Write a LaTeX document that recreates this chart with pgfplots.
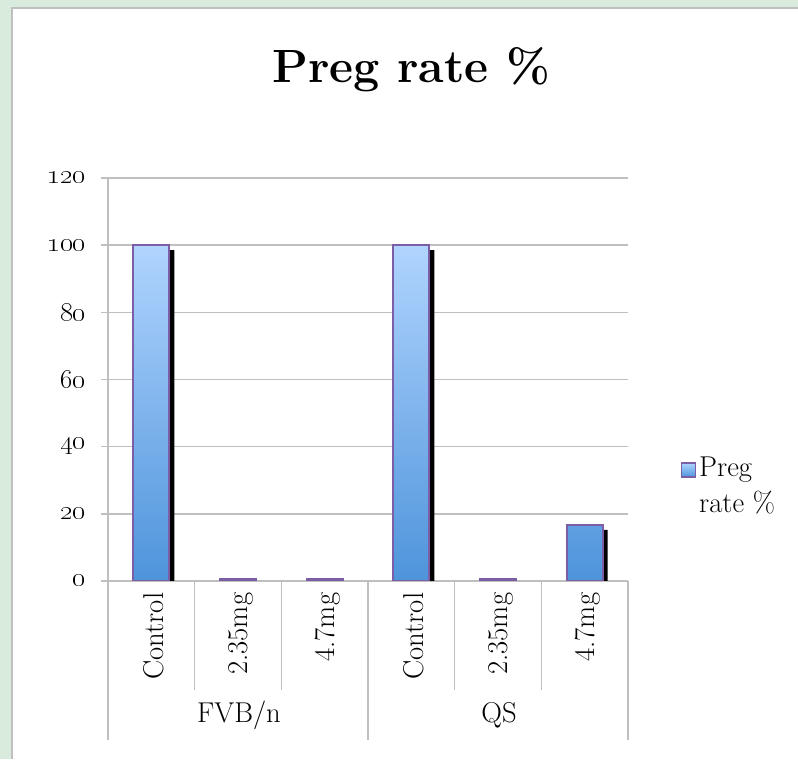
\documentclass[border=0pt]{standalone}
\usepackage{pgfplots}
\pgfplotsset{compat=1.18}
\definecolor{bgGreen}{HTML}{D8EBDC}
\definecolor{gridGray}{HTML}{BFBFBF}
\definecolor{barTop}{HTML}{B0D4FE}
\definecolor{barBot}{HTML}{4E94DB}
\definecolor{barEdge}{HTML}{7B5EA6}
\newcommand{\lbl}{\fontsize{21.5}{27}\selectfont}

\begin{document}
\begin{tikzpicture}
% page background and white chart area
\fill[bgGreen] (0pt,0pt) rectangle (598.5pt,569.25pt);
\fill[white] (9pt,0pt) rectangle (598.5pt,563.25pt);
\draw[gridGray, line width=1.2pt] (9pt,0pt) -- (9pt,563.25pt) -- (598.5pt,563.25pt);

\node[font=\fontsize{35}{40}\selectfont\bfseries] at (308.25pt,516.75pt) {Preg rate \%};

\begin{axis}[
  at={(81pt,133.5pt)}, anchor=south west,
  width=390pt, height=302.25pt, scale only axis,
  xmin=0.5, xmax=6.5, ymin=0, ymax=120,
  axis x line*=bottom, axis y line*=left,
  axis line style={-, gridGray, line width=1.2pt},
  x axis line style={-}, y axis line style={-},
  ytick={0,20,...,120},
  yticklabels={\oldstylenums{0},\oldstylenums{20},\oldstylenums{40},\oldstylenums{60},\oldstylenums{80},\oldstylenums{100},\oldstylenums{120}},
  y tick label style={font=\lbl, xshift=-8pt},
  ymajorgrids, grid style={gridGray, line width=1.2pt},
  y tick style={gridGray, line width=1.2pt},
  major tick length=5.25pt, tick align=outside,
  xtick={1,...,6},
  xticklabels={Control,2.35mg,4.7mg,Control,2.35mg,4.7mg},
  x tick style={draw=none},
  x tick label style={rotate=90, anchor=east, font=\lbl, yshift=-2pt},
  ybar, bar width=27pt,
  legend style={at={(1.094,0.236)}, anchor=west, draw=none, fill=none,
    font=\lbl, cells={anchor=west, align=left}},
  legend image code/.code={\draw[barEdge, line width=1pt, top color=barTop, bottom color=barBot] (0pt,6.75pt) rectangle (10.5pt,17.25pt);},
]
% drop shadow
\addplot[fill=black, draw=none, bar shift=3.75pt, yshift=-3.75pt, forget plot]
  coordinates {(1,100) (2,0.5) (3,0.5) (4,100) (5,0.5) (6,16.7)};
\addplot[draw=barEdge, line width=1.5pt, top color=barTop, bottom color=barBot]
  coordinates {(1,100) (2,0.5) (3,0.5) (4,100) (5,0.5) (6,16.7)};
\addlegendentry{Preg\\rate \%}
\end{axis}

% category separators below the axis
\foreach \k in {1,2,4,5} {
  \draw[gridGray, line width=1.2pt] ({81pt+\k*65pt},133.5pt) -- ({81pt+\k*65pt},51.75pt);
}
\foreach \k in {0,3,6} {
  \draw[gridGray, line width=1.2pt] ({81pt+\k*65pt},133.5pt) -- ({81pt+\k*65pt},14.25pt);
}
\node[font=\lbl] at (179.25pt,33pt) {FVB/n};
\node[font=\lbl] at (374.25pt,33pt) {QS};

\pgfresetboundingbox
\useasboundingbox (0pt,0pt) rectangle (598.5pt,569.25pt);
\end{tikzpicture}
\end{document}
